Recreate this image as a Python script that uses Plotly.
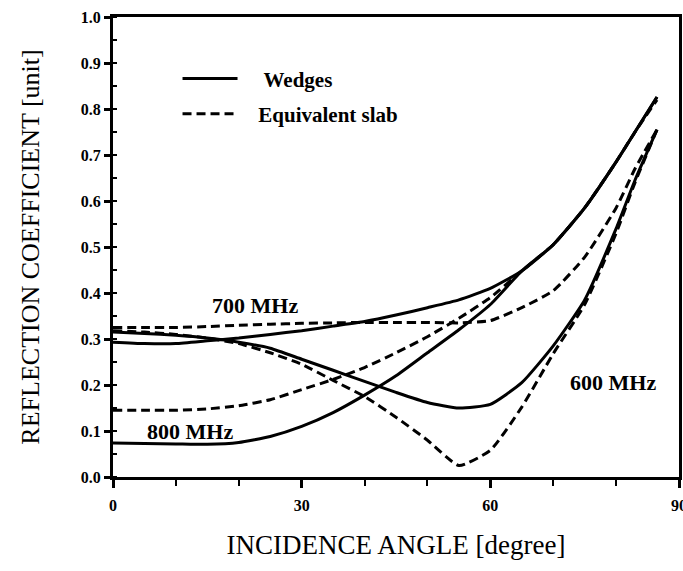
import plotly.graph_objects as go

# ---- data ----
angle = [0, 5, 10, 15, 20, 25, 30, 35, 40, 45, 50, 55, 60, 65, 70, 75, 80, 83, 86.5]

wedges_600 = [0.315, 0.312, 0.308, 0.302, 0.293, 0.28, 0.256, 0.232, 0.208, 0.184, 0.162, 0.150, 0.158, 0.205, 0.285, 0.385, 0.54, 0.645, 0.755]
slab_600   = [0.318, 0.315, 0.310, 0.302, 0.290, 0.270, 0.245, 0.210, 0.175, 0.130, 0.080, 0.025, 0.058, 0.152, 0.268, 0.375, 0.53, 0.640, 0.755]

wedges_700 = [0.293, 0.290, 0.290, 0.296, 0.302, 0.310, 0.318, 0.328, 0.338, 0.352, 0.368, 0.385, 0.410, 0.448, 0.505, 0.585, 0.685, 0.750, 0.826]
slab_700   = [0.325, 0.325, 0.325, 0.327, 0.330, 0.332, 0.334, 0.335, 0.336, 0.336, 0.336, 0.335, 0.340, 0.368, 0.405, 0.478, 0.585, 0.670, 0.755]

wedges_800 = [0.074, 0.073, 0.072, 0.071, 0.075, 0.088, 0.110, 0.140, 0.178, 0.220, 0.270, 0.320, 0.375, 0.448, 0.505, 0.585, 0.685, 0.750, 0.826]
slab_800   = [0.145, 0.145, 0.145, 0.148, 0.155, 0.168, 0.190, 0.212, 0.238, 0.270, 0.305, 0.345, 0.390, 0.448, 0.505, 0.585, 0.685, 0.750, 0.820]

x_ticks = [0, 30, 60, 90]
freq_labels = ["700 MHz", "800 MHz", "600 MHz"]
label_x = [22.5, 12.3, 79.5]
label_y = [0.372, 0.100, 0.205]

SERIF = "Liberation Serif"
SOLID = dict(color="black", width=3, shape="spline", smoothing=0.5)
DASH = dict(color="black", width=3, dash="9px,5px", shape="spline", smoothing=0.5)

fig = go.Figure()
series = [
    ("Wedges", wedges_600, SOLID, True, "w"),
    ("Equivalent slab", slab_600, DASH, True, "e"),
    ("Wedges", wedges_700, SOLID, False, "w"),
    ("Equivalent slab", slab_700, DASH, False, "e"),
    ("Wedges", wedges_800, SOLID, False, "w"),
    ("Equivalent slab", slab_800, DASH, False, "e"),
]
for name, ys, ln, show, grp in series:
    pad = "\u00a0\u00a0\u00a0\u00a0" if grp == "w" else "\u00a0\u00a0\u00a0"
    fig.add_trace(go.Scatter(
        x=angle, y=ys, mode="lines", line=ln, name=pad + name,
        showlegend=show, legendgroup=grp, hoverinfo="skip"))

for t, xx, yy in zip(freq_labels, label_x, label_y):
    fig.add_annotation(x=xx, y=yy, text=t, showarrow=False,
                       font=dict(family=SERIF, size=22, color="black", weight="bold"))

fig.update_layout(
    width=683, height=571,
    margin=dict(l=113, r=4, t=17, b=94),
    paper_bgcolor="white", plot_bgcolor="white",
    font=dict(family=SERIF, color="black"),
    legend=dict(x=0.114, y=0.91, xanchor="left", yanchor="top",
                font=dict(family=SERIF, size=21, color="black", weight="bold"),
                itemwidth=55, bgcolor="rgba(0,0,0,0)", tracegroupgap=5),
)
fig.update_xaxes(
    range=[0, 90], tickvals=x_ticks, ticktext=[str(v) for v in x_ticks],
    showline=True, linewidth=3, linecolor="black", mirror=True,
    ticks="outside", ticklen=8, tickwidth=3, tickcolor="black",
    minor=dict(dtick=10, ticks="outside", ticklen=6, tickwidth=2, tickcolor="black"),
    showgrid=False, zeroline=False, automargin=False, ticklabeloverflow="allow",
    tickfont=dict(family=SERIF, size=16, color="black", weight="bold"),
    ticklabelstandoff=4,
    title=dict(text="INCIDENCE ANGLE [degree]", font=dict(family=SERIF, size=27, color="black"), standoff=22),
)
fig.update_yaxes(
    range=[0, 1.0], dtick=0.1, tickformat=".1f",
    showline=True, linewidth=3, linecolor="black", mirror=True,
    ticks="outside", ticklen=6, tickwidth=3, tickcolor="black",
    minor=dict(dtick=0.05, ticks="inside", ticklen=4, tickwidth=2, tickcolor="black"),
    showgrid=False, zeroline=False, automargin=False,
    tickfont=dict(family=SERIF, size=16, color="black", weight="bold"),
    title=dict(text="REFLECTION COEFFICIENT [unit]", font=dict(family=SERIF, size=26, color="black"), standoff=34),
)

fig.write_html("out.html")
